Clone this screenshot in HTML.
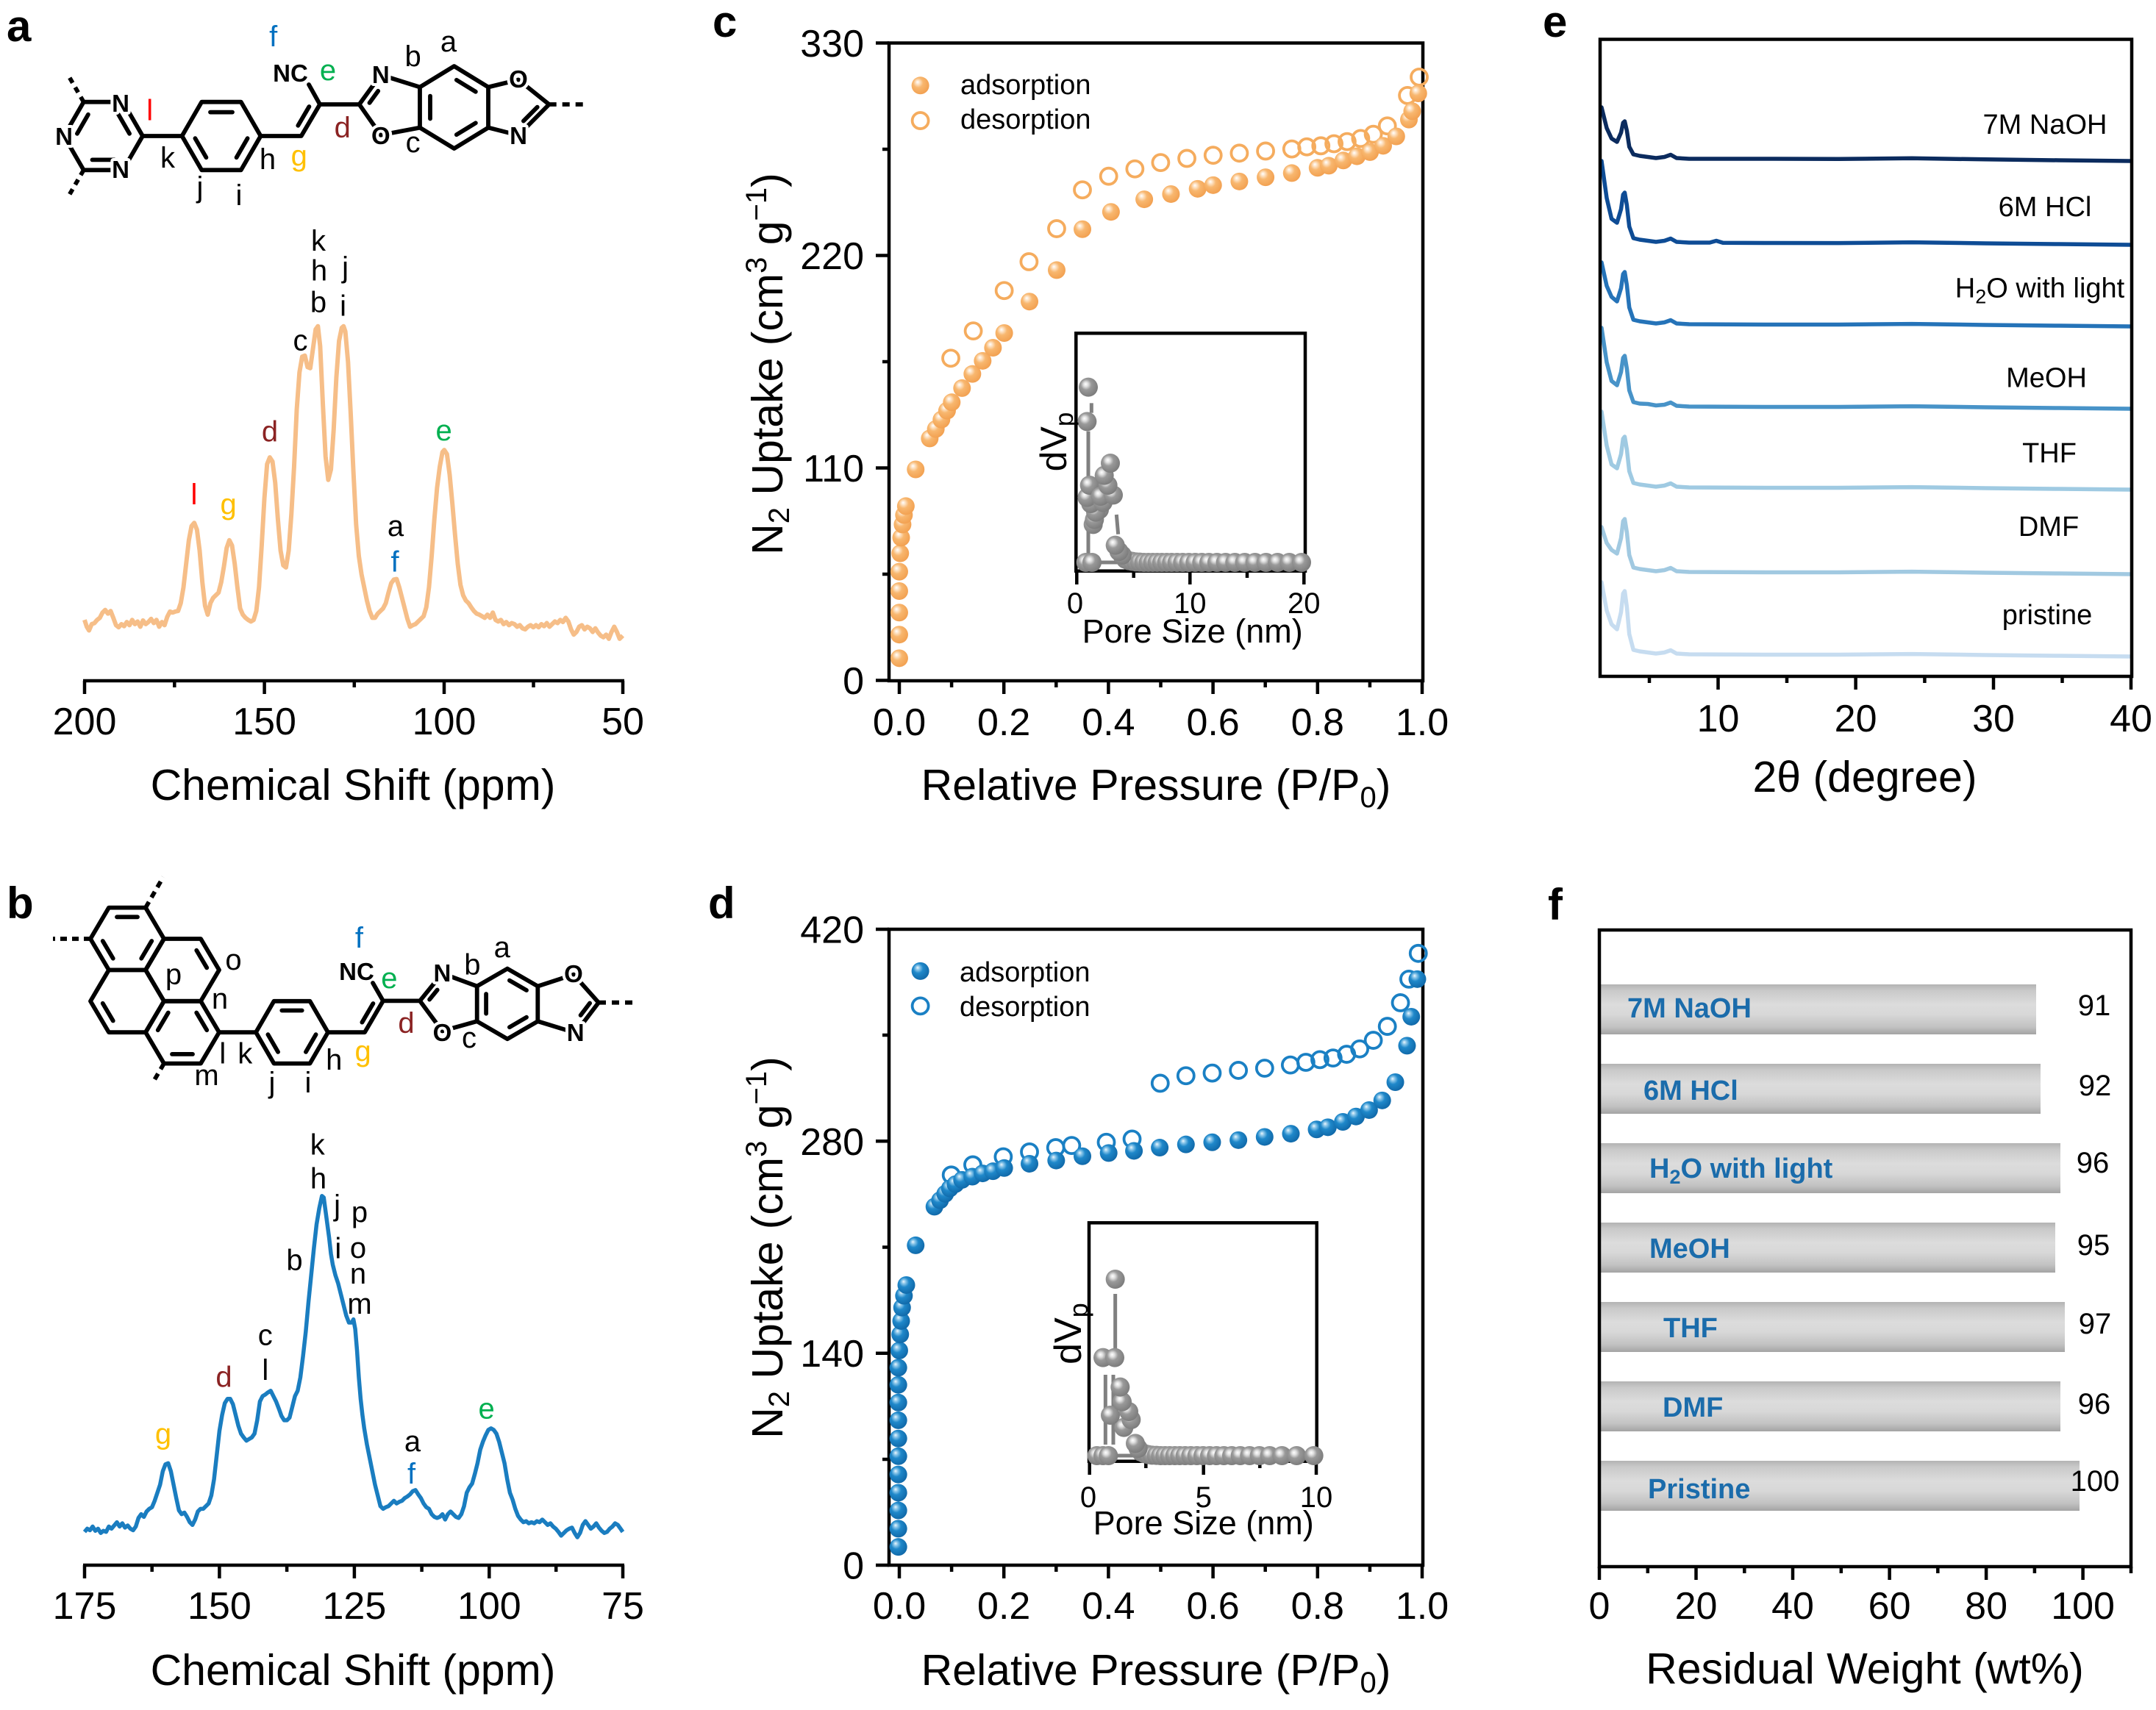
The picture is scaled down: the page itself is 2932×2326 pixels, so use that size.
<!DOCTYPE html>
<html><head><meta charset="utf-8"><style>
html,body{margin:0;padding:0;background:#fff;}
svg{display:block;}
text{font-family:"Liberation Sans",Arial,sans-serif;}
.pl{font-weight:bold;font-size:60px;}
.tk{font-size:52px;}
.tt{font-size:59px;}
.lb{font-size:40px;}
.at{font-weight:bold;font-size:33px;stroke:#fff;stroke-width:8;paint-order:stroke;stroke-linejoin:round;}
.bd{stroke:#000;stroke-width:5.8;fill:none;stroke-linecap:round;stroke-linejoin:round;}
.ax{stroke:#000;stroke-width:4.5;fill:none;}
</style></head><body>
<svg width="2932" height="2326" viewBox="0 0 2932 2326" xmlns="http://www.w3.org/2000/svg">
<defs>
<radialGradient id="gO" cx="0.42" cy="0.4" r="0.62" fx="0.34" fy="0.3"><stop offset="0" stop-color="#ffffff"/><stop offset="0.18" stop-color="#fde3c6"/><stop offset="0.45" stop-color="#f8b76f"/><stop offset="1" stop-color="#f2a050"/></radialGradient>
<radialGradient id="gB" cx="0.42" cy="0.4" r="0.62" fx="0.34" fy="0.3"><stop offset="0" stop-color="#eef7fd"/><stop offset="0.18" stop-color="#8cc7ea"/><stop offset="0.45" stop-color="#1f88ca"/><stop offset="1" stop-color="#1068a8"/></radialGradient>
<radialGradient id="gG" cx="0.42" cy="0.4" r="0.62" fx="0.36" fy="0.34"><stop offset="0" stop-color="#ffffff"/><stop offset="0.2" stop-color="#dedede"/><stop offset="0.45" stop-color="#999"/><stop offset="1" stop-color="#7b7b7b"/></radialGradient>
<linearGradient id="bar" x1="0" y1="0" x2="0" y2="1"><stop offset="0" stop-color="#b3b3b3"/><stop offset="0.12" stop-color="#c9c9c9"/><stop offset="0.4" stop-color="#dcdcdc"/><stop offset="0.6" stop-color="#d8d8d8"/><stop offset="0.85" stop-color="#c2c2c2"/><stop offset="1" stop-color="#a3a3a3"/></linearGradient>
<g id="cF"><circle r="12" fill="url(#gO)" transform="scale(1.5699,1.4017)"/></g>
<g id="cE"><circle r="11" fill="none" stroke="#F5AC5E" stroke-width="3.8" transform="scale(1.5699,1.4017)"/></g>
<g id="dF"><circle r="12" fill="url(#gB)" transform="scale(1.5699,1.3699)"/></g>
<g id="dE"><circle r="11" fill="none" stroke="#1a80c4" stroke-width="3.8" transform="scale(1.5699,1.3699)"/></g>
<circle id="gS" r="39" fill="url(#gG)"/>
</defs>

<!-- ================= PANEL A ================= -->
<text class="pl" x="9" y="56">a</text>
<g class="bd">
<polygon points="87,185 113.75,138.7 167.25,138.7 194,185 167.25,231.3 113.75,231.3"/>
<line x1="104.9" y1="181.8" x2="119.9" y2="155.8"/><line x1="161.1" y1="155.8" x2="176.1" y2="181.8"/><line x1="155.5" y1="217.4" x2="125.5" y2="217.4"/>
<line x1="113.75" y1="138.7" x2="91.25" y2="99.7" stroke-dasharray="8 7" stroke-linecap="butt"/>
<line x1="113.75" y1="231.3" x2="91.25" y2="270.3" stroke-dasharray="8 7" stroke-linecap="butt"/>
<line x1="194" y1="185" x2="247.5" y2="185"/>
<polygon points="247.5,185 274.25,138.7 327.75,138.7 354.5,185 327.75,231.3 274.25,231.3"/>
<line x1="286" y1="152.6" x2="316" y2="152.6"/><line x1="265.4" y1="188.2" x2="280.4" y2="214.2"/><line x1="336.6" y1="188.2" x2="321.6" y2="214.2"/>
<polyline points="354.5,185 409.7,185 435,142 488.6,142"/>
<line x1="405.3" y1="170.8" x2="420.4" y2="145"/>
<line x1="435" y1="142" x2="420" y2="115"/>
<line x1="488.6" y1="142" x2="517.8" y2="101.8"/><line x1="502.5" y1="139.9" x2="514.2" y2="123.8"/>
<line x1="488.6" y1="142" x2="517.8" y2="183.7"/>
<line x1="517.8" y1="101.8" x2="571" y2="118.5"/><line x1="517.8" y1="183.7" x2="571" y2="173.6"/>
<polygon points="571,118.5 617.6,90 664,118.5 664,173.6 617.6,202 571,173.6"/>
<line x1="585" y1="130.6" x2="585" y2="161.5"/><line x1="620.85" y1="108.8" x2="646.85" y2="124.75"/><line x1="646.85" y1="167.3" x2="620.85" y2="183.2"/>
<polyline points="664,118.5 705,108.5 746.7,142 705,184 664,173.6"/>
<line x1="730.7" y1="145.7" x2="711.9" y2="164.6"/>
<line x1="746.7" y1="142" x2="795" y2="142" stroke-dasharray="10 8" stroke-linecap="butt"/>
</g>
<g class="at" text-anchor="middle">
<text x="87" y="197">N</text><text x="164" y="152">N</text><text x="164" y="242">N</text>
<text x="517.8" y="113">N</text><text x="517.8" y="196">O</text>
<text x="705" y="119">O</text><text x="705" y="196">N</text>
<text x="395" y="111" stroke-width="4">NC</text>
</g>
<g class="lb" text-anchor="middle">
<text x="203.7" y="163.6" style="fill:#FF0000">l</text>
<text x="228" y="228">k</text>
<text x="272" y="268">j</text>
<text x="325" y="279">i</text>
<text x="364" y="230">h</text>
<text x="406.7" y="225" style="fill:#FFC000">g</text>
<text x="371.7" y="63" style="fill:#0070C0">f</text>
<text x="446" y="109" style="fill:#00B050">e</text>
<text x="465.7" y="187" style="fill:#8B2323">d</text>
<text x="561.6" y="90">b</text>
<text x="610" y="70">a</text>
<text x="561.6" y="207">c</text>
</g>
<!-- spectrum a -->
<path fill="none" stroke="#F6BE88" stroke-width="6" stroke-linejoin="round" vector-effect="non-scaling-stroke" transform="matrix(0.6115,0,0,0.7134,0,0)" d="M188,1182 L193,1195 198,1202 204,1190 210,1188 216,1182 222,1178 228,1168 234,1163 240,1170 246,1165 252,1178 258,1192 264,1196 270,1190 276,1194 282,1186 288,1192 294,1182 300,1190 306,1185 312,1195 318,1183 324,1190 330,1186 336,1180 342,1188 348,1182 354,1195 360,1186 366,1192 372,1176 378,1166 384,1168 390,1166 396,1165 402,1150 408,1120 414,1075 420,1030 426,1003 432,997 438,1010 444,1050 450,1110 456,1155 462,1172 468,1150 474,1140 480,1135 486,1130 492,1110 498,1080 504,1045 510,1030 516,1040 522,1075 528,1120 534,1160 540,1172 546,1178 552,1182 558,1185 564,1182 570,1165 576,1120 582,1040 588,950 594,885 600,872 606,880 612,920 618,990 624,1050 630,1078 636,1082 642,1050 648,980 654,890 660,780 666,710 672,680 678,678 684,700 690,702 696,665 702,628 707,622 712,660 718,770 724,870 730,915 736,895 742,820 748,720 754,650 760,625 764,622 768,632 774,690 780,790 786,900 792,1000 798,1060 804,1095 810,1120 816,1145 822,1165 828,1178 834,1178 840,1170 846,1165 852,1160 858,1150 864,1130 870,1112 876,1105 882,1104 888,1120 894,1140 900,1160 906,1180 912,1195 918,1192 924,1190 930,1185 936,1180 942,1175 948,1158 954,1120 960,1060 966,990 972,930 978,890 984,862 988,858 994,866 1000,905 1006,960 1012,1020 1018,1075 1024,1115 1030,1135 1036,1145 1042,1150 1048,1158 1054,1165 1060,1170 1066,1172 1072,1175 1078,1178 1084,1172 1090,1178 1096,1168 1102,1182 1108,1185 1114,1182 1120,1190 1126,1186 1132,1192 1138,1188 1144,1190 1150,1195 1156,1192 1162,1198 1168,1200 1174,1195 1180,1192 1186,1196 1192,1192 1198,1196 1204,1190 1210,1194 1216,1188 1222,1195 1228,1190 1234,1185 1240,1188 1246,1182 1252,1186 1258,1178 1264,1185 1270,1200 1276,1210 1282,1205 1288,1195 1294,1192 1300,1200 1306,1195 1312,1198 1318,1205 1324,1198 1330,1206 1336,1212 1342,1215 1348,1210 1354,1218 1360,1205 1366,1195 1372,1205 1378,1218 1385,1212"/>
<g class="lb" text-anchor="middle">
<text x="264" y="686" style="fill:#FF0000">l</text>
<text x="310.6" y="699" style="fill:#FFC000">g</text>
<text x="367" y="600.7" style="fill:#8B2323">d</text>
<text x="408.5" y="476.5">c</text>
<text x="433" y="341">k</text>
<text x="434" y="381.7">h</text>
<text x="433" y="424.5">b</text>
<text x="469.6" y="377">j</text>
<text x="466.6" y="429.5">i</text>
<text x="538" y="729">a</text>
<text x="537" y="777.6" style="fill:#0070C0">f</text>
<text x="603.6" y="599" style="fill:#00B050">e</text>
</g>
<g class="ax">
<line x1="113" y1="926" x2="849" y2="926"/>
<line x1="115" y1="926" x2="115" y2="944"/><line x1="359.6" y1="926" x2="359.6" y2="944"/><line x1="604" y1="926" x2="604" y2="944"/><line x1="847" y1="926" x2="847" y2="944"/>
<line x1="237.3" y1="926" x2="237.3" y2="935"/><line x1="481.8" y1="926" x2="481.8" y2="935"/><line x1="725.5" y1="926" x2="725.5" y2="935"/>
</g>
<g class="tk" text-anchor="middle">
<text x="115" y="999">200</text><text x="359.6" y="999">150</text><text x="604" y="999">100</text><text x="847" y="999">50</text>
</g>
<text class="tt" x="480" y="1088" text-anchor="middle" font-size="60.5">Chemical Shift (ppm)</text>

<!-- ================= PANEL B ================= -->
<text class="pl" x="9" y="1249">b</text>
<g class="bd">
<polygon points="148,1234.6 198,1234.6 223,1277 198,1319.4 148,1319.4 123,1277"/>
<polygon points="223,1277 273,1277 298,1319.4 273,1361.8 223,1361.8 198,1319.4"/>
<polygon points="148,1319.4 198,1319.4 223,1361.8 198,1404.2 148,1404.2 123,1361.8"/>
<polygon points="223,1361.8 273,1361.8 298,1404.2 273,1446.6 223,1446.6 198,1404.2"/>
<line x1="159" y1="1247.3" x2="187" y2="1247.3"/>
<line x1="139.75" y1="1280" x2="153.75" y2="1303.7"/>
<line x1="206.25" y1="1280" x2="192.25" y2="1303.7"/>
<line x1="267.25" y1="1292.7" x2="281.25" y2="1316.4"/>
<line x1="139.75" y1="1364.8" x2="153.75" y2="1388.5"/>
<line x1="234" y1="1433.9" x2="262" y2="1433.9"/>
<line x1="267.25" y1="1377.5" x2="281.25" y2="1401.2"/>
<line x1="228.75" y1="1377.5" x2="214.75" y2="1401.2"/>
<line x1="123" y1="1277" x2="72" y2="1277" stroke-dasharray="9 7" stroke-linecap="butt"/>
<line x1="198" y1="1234.6" x2="222" y2="1193" stroke-dasharray="9 7" stroke-linecap="butt"/>
<line x1="223" y1="1446.6" x2="207" y2="1474" stroke-dasharray="9 7" stroke-linecap="butt"/>
<line x1="298" y1="1404.2" x2="348" y2="1404.2"/>
<polygon points="348,1404.2 372.5,1361.8 421.5,1361.8 446,1404.2 421.5,1446.6 372.5,1446.6"/>
<line x1="383.3" y1="1374.5" x2="410.7" y2="1374.5"/><line x1="364.4" y1="1407.2" x2="378.1" y2="1430.9"/><line x1="429.6" y1="1407.2" x2="415.9" y2="1430.9"/>
<polyline points="446,1404.2 496,1404.2 521,1361.4 571,1361.4"/>
<line x1="492.4" y1="1390.6" x2="507.4" y2="1365"/>
<line x1="521" y1="1361.4" x2="507" y2="1337"/>
<line x1="571" y1="1361.4" x2="601.4" y2="1324"/><line x1="584.1" y1="1359.6" x2="594.7" y2="1346.5"/>
<line x1="571" y1="1361.4" x2="601.4" y2="1402.4"/>
<line x1="601.4" y1="1324" x2="648.7" y2="1341.5"/><line x1="601.4" y1="1402.4" x2="648.7" y2="1389.2"/>
<polygon points="648.7,1341.5 690,1317.6 731.3,1341.5 731.3,1389.2 690,1413.2 648.7,1389.2"/>
<line x1="661.1" y1="1352" x2="661.1" y2="1378.7"/><line x1="692.9" y1="1333.6" x2="716" y2="1347"/><line x1="716" y1="1383.7" x2="692.9" y2="1397.2"/>
<polyline points="731.3,1341.5 780,1325.6 814,1363.7 782.7,1405 731.3,1389.2"/>
<line x1="802.1" y1="1364.5" x2="789.6" y2="1381"/>
<line x1="814" y1="1363.7" x2="864" y2="1363.7" stroke-dasharray="10 8" stroke-linecap="butt"/>
</g>
<g class="at" text-anchor="middle">
<text x="601.4" y="1335">N</text><text x="601.4" y="1416">O</text>
<text x="780" y="1336">O</text><text x="782.7" y="1416">N</text>
<text x="485" y="1333" stroke-width="4">NC</text>
</g>
<g class="lb" text-anchor="middle">
<text x="317.5" y="1319">o</text>
<text x="236" y="1338.6">p</text>
<text x="299" y="1372">n</text>
<text x="302.8" y="1446.5">l</text>
<text x="333.3" y="1446.5">k</text>
<text x="281" y="1476">m</text>
<text x="370" y="1486">j</text>
<text x="419" y="1486">i</text>
<text x="454.2" y="1455">h</text>
<text x="493.6" y="1443" style="fill:#FFC000">g</text>
<text x="488.4" y="1289" style="fill:#0070C0">f</text>
<text x="529.4" y="1343.8" style="fill:#00B050">e</text>
<text x="552.5" y="1405" style="fill:#8B2323">d</text>
<text x="642.4" y="1325.6">b</text>
<text x="682.8" y="1302">a</text>
<text x="638" y="1425">c</text>
</g>
<!-- spectrum b -->
<path fill="none" stroke="#1A7DC0" stroke-width="5.5" stroke-linejoin="round" vector-effect="non-scaling-stroke" transform="matrix(0.6115,0,0,0.73,0,1180)" d="M188,1238 L194,1232 200,1235 206,1228 212,1236 218,1232 224,1240 230,1236 236,1238 242,1228 248,1232 254,1226 260,1220 266,1228 272,1222 278,1230 284,1226 290,1232 296,1235 302,1228 308,1212 314,1205 320,1210 326,1200 332,1195 338,1192 344,1180 350,1165 356,1150 362,1125 368,1112 374,1110 380,1125 386,1150 392,1175 398,1198 404,1205 410,1202 416,1210 422,1220 428,1225 434,1215 440,1200 446,1195 452,1195 458,1190 464,1185 470,1170 476,1140 482,1095 488,1050 494,1020 500,998 506,990 512,990 518,1000 524,1020 530,1040 536,1055 542,1062 548,1068 554,1065 560,1062 566,1055 572,1030 578,995 584,985 590,982 596,978 602,975 608,985 614,995 620,1008 626,1022 632,1030 638,1030 644,1025 650,1005 656,985 662,975 668,950 674,910 680,865 686,810 692,760 698,710 704,665 710,635 716,612 720,615 724,640 728,665 732,690 736,720 740,740 746,760 752,775 758,795 764,815 770,835 776,848 782,848 786,842 790,860 794,900 798,950 802,990 806,1020 810,1045 816,1075 822,1100 828,1125 834,1150 840,1170 846,1190 852,1195 858,1192 864,1190 870,1185 876,1180 882,1185 888,1182 894,1180 900,1175 906,1172 912,1168 918,1162 924,1160 930,1168 936,1175 942,1185 948,1192 954,1195 960,1205 966,1210 972,1212 978,1210 984,1205 990,1215 996,1205 1002,1200 1008,1205 1014,1210 1020,1212 1026,1205 1032,1190 1038,1165 1044,1155 1050,1148 1056,1130 1062,1110 1068,1085 1074,1070 1080,1058 1086,1048 1092,1045 1098,1048 1104,1055 1110,1070 1116,1090 1122,1110 1128,1140 1134,1165 1140,1178 1146,1195 1152,1208 1158,1215 1164,1220 1170,1218 1176,1222 1182,1220 1188,1222 1194,1218 1200,1220 1206,1215 1212,1220 1218,1225 1224,1222 1230,1228 1236,1232 1242,1238 1248,1245 1254,1240 1260,1235 1266,1232 1272,1230 1278,1240 1284,1248 1290,1240 1296,1225 1302,1218 1308,1225 1314,1232 1320,1228 1326,1222 1332,1230 1338,1236 1344,1240 1350,1238 1356,1232 1362,1228 1368,1222 1374,1225 1380,1232 1385,1238"/>
<g class="lb" text-anchor="middle">
<text x="222" y="1963.6" style="fill:#FFC000">g</text>
<text x="304.5" y="1886.6" style="fill:#8B2323">d</text>
<text x="360.8" y="1829.7">c</text>
<text x="360.8" y="1877">l</text>
<text x="400.5" y="1727.5">b</text>
<text x="431.7" y="1570.5">k</text>
<text x="433" y="1616.5">h</text>
<text x="458.6" y="1653">j</text>
<text x="459.8" y="1711.4">i</text>
<text x="489" y="1662">p</text>
<text x="487" y="1711">o</text>
<text x="487" y="1746">n</text>
<text x="489" y="1787">m</text>
<text x="561" y="1974">a</text>
<text x="559.5" y="2018" style="fill:#0070C0">f</text>
<text x="661.6" y="1929.7" style="fill:#00B050">e</text>
</g>
<g class="ax">
<line x1="113" y1="2129" x2="849" y2="2129"/>
<line x1="115" y1="2129" x2="115" y2="2147"/><line x1="298.4" y1="2129" x2="298.4" y2="2147"/><line x1="481.9" y1="2129" x2="481.9" y2="2147"/><line x1="665.3" y1="2129" x2="665.3" y2="2147"/><line x1="847" y1="2129" x2="847" y2="2147"/>
<line x1="206.7" y1="2129" x2="206.7" y2="2138"/><line x1="390.1" y1="2129" x2="390.1" y2="2138"/><line x1="573.6" y1="2129" x2="573.6" y2="2138"/><line x1="756.2" y1="2129" x2="756.2" y2="2138"/>
</g>
<g class="tk" text-anchor="middle">
<text x="115" y="2202">175</text><text x="298.4" y="2202">150</text><text x="481.9" y="2202">125</text><text x="665.3" y="2202">100</text><text x="847" y="2202">75</text>
</g>
<text class="tt" x="480" y="2292" text-anchor="middle" font-size="60.5">Chemical Shift (ppm)</text>

<!-- ================= PANEL C ================= -->
<text class="pl" x="969" y="50">c</text>
<rect x="1209" y="58.5" width="726" height="867.5" class="ax"/>
<g class="ax">
<line x1="1191" y1="58.5" x2="1209" y2="58.5"/><line x1="1191" y1="347.5" x2="1209" y2="347.5"/><line x1="1191" y1="636.5" x2="1209" y2="636.5"/><line x1="1191" y1="925.5" x2="1209" y2="925.5"/>
<line x1="1200" y1="203" x2="1209" y2="203"/><line x1="1200" y1="492" x2="1209" y2="492"/><line x1="1200" y1="781" x2="1209" y2="781"/>
<line x1="1223" y1="926" x2="1223" y2="944"/><line x1="1365.2" y1="926" x2="1365.2" y2="944"/><line x1="1507.4" y1="926" x2="1507.4" y2="944"/><line x1="1649.6" y1="926" x2="1649.6" y2="944"/><line x1="1791.8" y1="926" x2="1791.8" y2="944"/><line x1="1934" y1="926" x2="1934" y2="944"/>
<line x1="1294.1" y1="926" x2="1294.1" y2="935"/><line x1="1436.3" y1="926" x2="1436.3" y2="935"/><line x1="1578.5" y1="926" x2="1578.5" y2="935"/><line x1="1720.7" y1="926" x2="1720.7" y2="935"/><line x1="1862.9" y1="926" x2="1862.9" y2="935"/>
</g>
<g class="tk" text-anchor="end">
<text x="1175" y="77">330</text><text x="1175" y="366">220</text><text x="1175" y="655">110</text><text x="1175" y="944">0</text>
</g>
<g class="tk" text-anchor="middle">
<text x="1223" y="1000">0.0</text><text x="1365.2" y="1000">0.2</text><text x="1507.4" y="1000">0.4</text><text x="1649.6" y="1000">0.6</text><text x="1791.8" y="1000">0.8</text><text x="1934" y="1000">1.0</text>
</g>
<text class="tt" x="1572" y="1088" text-anchor="middle">Relative Pressure (P/P<tspan font-size="40" dy="10">0</tspan><tspan dy="-10">)</tspan></text>
<text class="tt" font-size="58" transform="translate(1064,495) rotate(-90)" text-anchor="middle">N<tspan font-size="40" dy="9">2</tspan><tspan dy="-9"> Uptake (cm</tspan><tspan font-size="40" dy="-22">3</tspan><tspan dy="22"> g</tspan><tspan font-size="40" dy="-22">−1</tspan><tspan dy="22">)</tspan></text>
<g transform="matrix(0.637,0,0,0.7134,1000,0)">
<use href="#cE" x="1460" y="147"/><use href="#cE" x="1435" y="182"/><use href="#cE" x="1392" y="240"/><use href="#cE" x="1362" y="256"/><use href="#cE" x="1335" y="264"/><use href="#cE" x="1306" y="270"/><use href="#cE" x="1278" y="274"/><use href="#cE" x="1250" y="278"/><use href="#cE" x="1220" y="280"/><use href="#cE" x="1188" y="284"/><use href="#cE" x="1132" y="288"/><use href="#cE" x="1076" y="292"/><use href="#cE" x="1020" y="296"/><use href="#cE" x="964" y="302"/><use href="#cE" x="908" y="310"/><use href="#cE" x="853" y="322"/><use href="#cE" x="797" y="336"/><use href="#cE" x="741" y="362"/><use href="#cE" x="686" y="436"/><use href="#cE" x="627" y="499"/><use href="#cE" x="574" y="554"/><use href="#cE" x="508" y="631"/><use href="#cE" x="460" y="683"/>
<use href="#cF" x="350" y="1255"/><use href="#cF" x="350" y="1210"/><use href="#cF" x="350" y="1168"/><use href="#cF" x="350" y="1127"/><use href="#cF" x="350" y="1090"/><use href="#cF" x="352" y="1055"/><use href="#cF" x="354" y="1025"/><use href="#cF" x="357" y="1000"/><use href="#cF" x="360" y="982"/><use href="#cF" x="364" y="965"/><use href="#cF" x="385" y="895"/><use href="#cF" x="415" y="836"/><use href="#cF" x="428" y="818"/><use href="#cF" x="440" y="800"/><use href="#cF" x="452" y="783"/><use href="#cF" x="462" y="767"/><use href="#cF" x="484" y="740"/><use href="#cF" x="506" y="713"/><use href="#cF" x="528" y="688"/><use href="#cF" x="550" y="663"/><use href="#cF" x="574" y="635"/><use href="#cF" x="628" y="575"/><use href="#cF" x="686" y="515"/><use href="#cF" x="741" y="437"/><use href="#cF" x="802" y="404"/><use href="#cF" x="873" y="380"/><use href="#cF" x="930" y="370"/><use href="#cF" x="987" y="360"/><use href="#cF" x="1020" y="353"/><use href="#cF" x="1076" y="346"/><use href="#cF" x="1132" y="338"/><use href="#cF" x="1188" y="330"/><use href="#cF" x="1243" y="320"/><use href="#cF" x="1267" y="316"/><use href="#cF" x="1298" y="306"/><use href="#cF" x="1327" y="298"/><use href="#cF" x="1355" y="290"/><use href="#cF" x="1383" y="278"/><use href="#cF" x="1411" y="260"/><use href="#cF" x="1438" y="228"/><use href="#cF" x="1445" y="212"/><use href="#cF" x="1458" y="178"/>
<use href="#cF" x="395" y="163"/><use href="#cE" x="395" y="230"/>
</g>
<text x="1306" y="128" font-size="38">adsorption</text>
<text x="1306" y="175" font-size="38">desorption</text>
<!-- inset c -->
<rect x="1463.3" y="453.3" width="311.7" height="323.4" fill="#fff" stroke="#000" stroke-width="4.5"/>
<g class="ax">
<line x1="1464.3" y1="777" x2="1464.3" y2="795"/><line x1="1618.3" y1="777" x2="1618.3" y2="795"/><line x1="1773.3" y1="777" x2="1773.3" y2="795"/>
<line x1="1541.7" y1="777" x2="1541.7" y2="786"/><line x1="1696" y1="777" x2="1696" y2="786"/>
</g>
<g transform="matrix(0.33333,0,0,0.33333,1400,430)">
<g fill="none" stroke="#808080" stroke-width="5">
<line x1="240" y1="470" x2="240" y2="1000" vector-effect="non-scaling-stroke"/>
<line x1="253" y1="355" x2="253" y2="395" vector-effect="non-scaling-stroke"/>
<line x1="355" y1="810" x2="362" y2="890" vector-effect="non-scaling-stroke"/>
<polyline points="240,1005 385,1005 1110,1005" vector-effect="non-scaling-stroke"/>
</g>
<use href="#gS" x="230" y="1005"/><use href="#gS" x="255" y="1005"/>
<use href="#gS" x="392" y="992"/><use href="#gS" x="405" y="998"/><use href="#gS" x="420" y="1001"/><use href="#gS" x="435" y="1003"/><use href="#gS" x="450" y="1004"/><use href="#gS" x="467" y="1005"/><use href="#gS" x="485" y="1005"/><use href="#gS" x="503" y="1005"/><use href="#gS" x="521" y="1005"/><use href="#gS" x="540" y="1005"/><use href="#gS" x="560" y="1005"/><use href="#gS" x="580" y="1005"/><use href="#gS" x="602" y="1005"/><use href="#gS" x="625" y="1005"/><use href="#gS" x="650" y="1005"/><use href="#gS" x="676" y="1005"/><use href="#gS" x="703" y="1005"/><use href="#gS" x="732" y="1005"/><use href="#gS" x="765" y="1005"/><use href="#gS" x="800" y="1005"/><use href="#gS" x="838" y="1005"/><use href="#gS" x="878" y="1005"/><use href="#gS" x="920" y="1005"/><use href="#gS" x="965" y="1005"/><use href="#gS" x="1012" y="1005"/><use href="#gS" x="1060" y="1005"/><use href="#gS" x="1110" y="1005"/>
<use href="#gS" x="378" y="975"/><use href="#gS" x="365" y="960"/><use href="#gS" x="350" y="935"/>
<use href="#gS" x="260" y="850"/><use href="#gS" x="265" y="830"/><use href="#gS" x="285" y="790"/><use href="#gS" x="270" y="800"/><use href="#gS" x="250" y="765"/><use href="#gS" x="235" y="740"/><use href="#gS" x="300" y="760"/><use href="#gS" x="245" y="690"/><use href="#gS" x="290" y="735"/><use href="#gS" x="342" y="730"/><use href="#gS" x="320" y="690"/><use href="#gS" x="305" y="650"/><use href="#gS" x="330" y="600"/>
<use href="#gS" x="235" y="430"/><use href="#gS" x="240" y="290"/>
</g>
<g font-size="40" text-anchor="middle">
<text x="1462" y="834">0</text><text x="1618.3" y="834">10</text><text x="1773.3" y="834">20</text>
</g>
<text x="1621.7" y="874" font-size="45" text-anchor="middle">Pore Size (nm)</text>
<text transform="translate(1450,601) rotate(-90)" font-size="50" text-anchor="middle">dV<tspan font-size="35" dy="9">p</tspan></text>

<!-- ================= PANEL D ================= -->
<text class="pl" x="963" y="1249">d</text>
<rect x="1209" y="1264" width="726" height="865" class="ax"/>
<g class="ax">
<line x1="1191" y1="1264" x2="1209" y2="1264"/><line x1="1191" y1="1552.3" x2="1209" y2="1552.3"/><line x1="1191" y1="1840.7" x2="1209" y2="1840.7"/><line x1="1191" y1="2129" x2="1209" y2="2129"/>
<line x1="1200" y1="1408" x2="1209" y2="1408"/><line x1="1200" y1="1696.5" x2="1209" y2="1696.5"/><line x1="1200" y1="1985" x2="1209" y2="1985"/>
<line x1="1223" y1="2129" x2="1223" y2="2147"/><line x1="1365.2" y1="2129" x2="1365.2" y2="2147"/><line x1="1507.4" y1="2129" x2="1507.4" y2="2147"/><line x1="1649.6" y1="2129" x2="1649.6" y2="2147"/><line x1="1791.8" y1="2129" x2="1791.8" y2="2147"/><line x1="1934" y1="2129" x2="1934" y2="2147"/>
<line x1="1294.1" y1="2129" x2="1294.1" y2="2138"/><line x1="1436.3" y1="2129" x2="1436.3" y2="2138"/><line x1="1578.5" y1="2129" x2="1578.5" y2="2138"/><line x1="1720.7" y1="2129" x2="1720.7" y2="2138"/><line x1="1862.9" y1="2129" x2="1862.9" y2="2138"/>
</g>
<g class="tk" text-anchor="end">
<text x="1175" y="1282.5">420</text><text x="1175" y="1571">280</text><text x="1175" y="1859">140</text><text x="1175" y="2147.5">0</text>
</g>
<g class="tk" text-anchor="middle">
<text x="1223" y="2202">0.0</text><text x="1365.2" y="2202">0.2</text><text x="1507.4" y="2202">0.4</text><text x="1649.6" y="2202">0.6</text><text x="1791.8" y="2202">0.8</text><text x="1934" y="2202">1.0</text>
</g>
<text class="tt" x="1572" y="2292" text-anchor="middle">Relative Pressure (P/P<tspan font-size="40" dy="10">0</tspan><tspan dy="-10">)</tspan></text>
<text class="tt" font-size="58" transform="translate(1064,1697) rotate(-90)" text-anchor="middle">N<tspan font-size="40" dy="9">2</tspan><tspan dy="-9"> Uptake (cm</tspan><tspan font-size="40" dy="-22">3</tspan><tspan dy="22"> g</tspan><tspan font-size="40" dy="-22">−1</tspan><tspan dy="22">)</tspan></text>
<g transform="matrix(0.637,0,0,0.73,1000,1180)">
<use href="#dE" x="1458" y="160"/><use href="#dE" x="1438" y="208"/><use href="#dE" x="1420" y="252"/><use href="#dE" x="1392" y="296"/><use href="#dE" x="1362" y="322"/><use href="#dE" x="1333" y="338"/><use href="#dE" x="1305" y="348"/><use href="#dE" x="1276" y="355"/><use href="#dE" x="1248" y="358"/><use href="#dE" x="1218" y="363"/><use href="#dE" x="1185" y="368"/><use href="#dE" x="1130" y="374"/><use href="#dE" x="1074" y="378"/><use href="#dE" x="1018" y="383"/><use href="#dE" x="962" y="388"/><use href="#dE" x="907" y="402"/><use href="#dE" x="847" y="506"/><use href="#dE" x="792" y="512"/><use href="#dE" x="718" y="518"/><use href="#dE" x="684" y="522"/><use href="#dE" x="628" y="530"/><use href="#dE" x="572" y="539"/><use href="#dE" x="507" y="554"/><use href="#dE" x="461" y="573"/>
<use href="#dF" x="348" y="1266"/><use href="#dF" x="348" y="1232"/><use href="#dF" x="348" y="1198"/><use href="#dF" x="348" y="1165"/><use href="#dF" x="348" y="1131"/><use href="#dF" x="348" y="1097"/><use href="#dF" x="348" y="1064"/><use href="#dF" x="348" y="1030"/><use href="#dF" x="348" y="997"/><use href="#dF" x="348" y="964"/><use href="#dF" x="348" y="932"/><use href="#dF" x="350" y="900"/><use href="#dF" x="352" y="870"/><use href="#dF" x="354" y="845"/><use href="#dF" x="356" y="820"/><use href="#dF" x="360" y="798"/><use href="#dF" x="365" y="778"/><use href="#dF" x="385" y="704"/><use href="#dF" x="425" y="632"/><use href="#dF" x="437" y="620"/><use href="#dF" x="448" y="608"/><use href="#dF" x="458" y="598"/><use href="#dF" x="470" y="590"/><use href="#dF" x="484" y="582"/><use href="#dF" x="506" y="576"/><use href="#dF" x="528" y="570"/><use href="#dF" x="550" y="566"/><use href="#dF" x="574" y="560"/><use href="#dF" x="628" y="552"/><use href="#dF" x="685" y="546"/><use href="#dF" x="741" y="538"/><use href="#dF" x="797" y="532"/><use href="#dF" x="851" y="528"/><use href="#dF" x="906" y="522"/><use href="#dF" x="962" y="516"/><use href="#dF" x="1018" y="512"/><use href="#dF" x="1074" y="508"/><use href="#dF" x="1130" y="502"/><use href="#dF" x="1186" y="496"/><use href="#dF" x="1241" y="488"/><use href="#dF" x="1265" y="484"/><use href="#dF" x="1297" y="474"/><use href="#dF" x="1325" y="464"/><use href="#dF" x="1353" y="452"/><use href="#dF" x="1381" y="434"/><use href="#dF" x="1409" y="400"/><use href="#dF" x="1434" y="332"/><use href="#dF" x="1443" y="278"/><use href="#dF" x="1456" y="208"/>
<use href="#dF" x="395" y="193"/><use href="#dE" x="395" y="258"/>
</g>
<text x="1305" y="1335" font-size="38">adsorption</text>
<text x="1305" y="1382" font-size="38">desorption</text>
<!-- inset d -->
<rect x="1481" y="1663.3" width="309.7" height="324.4" fill="#fff" stroke="#000" stroke-width="4.5"/>
<g class="ax">
<line x1="1481.7" y1="1988" x2="1481.7" y2="2006"/><line x1="1636.7" y1="1988" x2="1636.7" y2="2006"/><line x1="1790" y1="1988" x2="1790" y2="2006"/>
<line x1="1558.3" y1="1988" x2="1558.3" y2="1997"/><line x1="1713.3" y1="1988" x2="1713.3" y2="1997"/>
</g>
<g transform="matrix(0.33333,0,0,0.33333,1420,1640)">
<g fill="none" stroke="#808080" stroke-width="5">
<line x1="290" y1="360" x2="290" y2="590" vector-effect="non-scaling-stroke"/>
<line x1="250" y1="690" x2="250" y2="975" vector-effect="non-scaling-stroke"/>
<line x1="282" y1="690" x2="282" y2="975" vector-effect="non-scaling-stroke"/>
<polyline points="215,1020 1100,1020" vector-effect="non-scaling-stroke"/>
</g>
<use href="#gS" x="215" y="1020"/><use href="#gS" x="240" y="1020"/><use href="#gS" x="262" y="1020"/>
<use href="#gS" x="395" y="1005"/><use href="#gS" x="410" y="1012"/><use href="#gS" x="425" y="1016"/><use href="#gS" x="440" y="1018"/><use href="#gS" x="458" y="1019"/><use href="#gS" x="475" y="1020"/><use href="#gS" x="493" y="1020"/><use href="#gS" x="512" y="1020"/><use href="#gS" x="533" y="1020"/><use href="#gS" x="553" y="1020"/><use href="#gS" x="575" y="1020"/><use href="#gS" x="598" y="1020"/><use href="#gS" x="623" y="1020"/><use href="#gS" x="648" y="1020"/><use href="#gS" x="675" y="1020"/><use href="#gS" x="703" y="1020"/><use href="#gS" x="733" y="1020"/><use href="#gS" x="765" y="1020"/><use href="#gS" x="800" y="1020"/><use href="#gS" x="838" y="1020"/><use href="#gS" x="878" y="1020"/><use href="#gS" x="920" y="1020"/><use href="#gS" x="970" y="1020"/><use href="#gS" x="1030" y="1020"/><use href="#gS" x="1100" y="1020"/>
<use href="#gS" x="383" y="990"/><use href="#gS" x="372" y="970"/>
<use href="#gS" x="325" y="905"/><use href="#gS" x="355" y="873"/><use href="#gS" x="270" y="855"/><use href="#gS" x="345" y="840"/><use href="#gS" x="318" y="800"/><use href="#gS" x="310" y="740"/>
<use href="#gS" x="240" y="620"/><use href="#gS" x="288" y="620"/><use href="#gS" x="290" y="300"/>
</g>
<g font-size="40" text-anchor="middle">
<text x="1480" y="2050">0</text><text x="1636.7" y="2050">5</text><text x="1790" y="2050">10</text>
</g>
<text x="1636.7" y="2087" font-size="45" text-anchor="middle">Pore Size (nm)</text>
<text transform="translate(1470,1814) rotate(-90)" font-size="52" text-anchor="middle">dV<tspan font-size="36" dy="9">p</tspan></text>

<!-- ================= PANEL E ================= -->
<text class="pl" x="2098" y="50">e</text>
<g fill="none" stroke-width="5.5" stroke-linejoin="round" stroke-linecap="round">
<path stroke="#c6dcf0" d="M2178,792 L2185,830.4 L2191.6,849.2 L2199,856 L2204.5,832.6 L2207.3,807.4 L2209.5,804 L2212.4,825.5 L2215.7,862.5 L2221.3,884 L2229.8,886 L2241,887.5 L2252,889 L2263.5,887.5 L2272,884.5 L2280,889 L2297,890 L2400,890.5 L2500,890.5 L2600,889.6 L2700,891 L2800,892 L2897,893"/>
<path stroke="#a1c9e1" d="M2178,717 L2185,738.6 L2191.6,748 L2199,753 L2204.5,731.9 L2207.3,708.9 L2209.5,706 L2212.4,724 L2215.7,755 L2221.3,772 L2229.8,774 L2241,775.5 L2252,777 L2263.5,775.5 L2272,772.5 L2280,777 L2297,778 L2400,778.5 L2500,778.5 L2600,777.6 L2700,779 L2800,780 L2897,781"/>
<path stroke="#9fcae2" d="M2178,560 L2185,606.2 L2191.6,631.8 L2199,637 L2204.5,617.7 L2207.3,596.8 L2209.5,594 L2212.4,611.3 L2215.7,641 L2221.3,657 L2229.8,659 L2241,660.5 L2252,662 L2263.5,660.5 L2272,657.5 L2280,662 L2297,663 L2400,663.5 L2500,663.5 L2600,662.6 L2700,664 L2800,665 L2897,666"/>
<path stroke="#4893c8" d="M2178,446 L2185,492.8 L2191.6,518.2 L2199,524 L2204.5,506 L2207.3,486.8 L2209.5,484 L2212.4,501.3 L2215.7,531 L2221.3,547 L2229.8,549 L2241,549.5 L2252,551.5 L2263.5,550.5 L2272,547.5 L2280,552 L2297,553 L2400,553.5 L2500,553.5 L2600,552.6 L2700,554 L2800,555 L2897,556"/>
<path stroke="#2573b8" d="M2178,357 L2185,388.8 L2191.6,403.8 L2199,410 L2204.5,392 L2207.3,372.8 L2209.5,370 L2212.4,387.8 L2215.7,418.3 L2221.3,435 L2229.8,437 L2241,438.5 L2252,440 L2263.5,438.5 L2272,435.5 L2280,440 L2297,441 L2400,441.5 L2500,441.5 L2600,440.6 L2700,442 L2800,443 L2897,444"/>
<path stroke="#0e4c95" d="M2178,219 L2185,269.4 L2191.6,297.6 L2199,303 L2204.5,284.5 L2207.3,264.7 L2209.5,262 L2212.4,279 L2215.7,308.2 L2221.3,324 L2229.8,326 L2241,327.5 L2252,329 L2263.5,327.5 L2272,324.5 L2280,329 L2297,330 L2325,330 L2334,327.5 L2343,330.3 L2400,330.5 L2500,330.6 L2600,329.6 L2700,331 L2800,332 L2897,333"/>
<path stroke="#0b2b5e" d="M2178,146 L2185,174.2 L2191.6,188.4 L2199,193 L2204.5,180.4 L2207.3,167 L2209.5,165 L2212.4,177.7 L2215.7,199.7 L2221.3,210 L2229.8,212 L2241,213.5 L2252,215 L2263.5,213.5 L2272,210.5 L2280,215 L2297,216 L2400,216 L2500,216.2 L2600,215.3 L2700,216.8 L2800,218 L2897,219"/>
</g>
<rect x="2176" y="53.5" width="723" height="866.5" class="ax"/>
<g class="ax">
<line x1="2336.5" y1="920" x2="2336.5" y2="938"/><line x1="2523.6" y1="920" x2="2523.6" y2="938"/><line x1="2711" y1="920" x2="2711" y2="938"/><line x1="2898" y1="920" x2="2898" y2="938"/>
<line x1="2243" y1="920" x2="2243" y2="929"/><line x1="2430" y1="920" x2="2430" y2="929"/><line x1="2617.4" y1="920" x2="2617.4" y2="929"/><line x1="2804.5" y1="920" x2="2804.5" y2="929"/>
</g>
<g font-size="38" text-anchor="middle">
<text x="2781" y="182">7M NaOH</text>
<text x="2781" y="294">6M HCl</text>
<text x="2774" y="404.5">H<tspan font-size="27" dy="8">2</tspan><tspan dy="-8">O with light</tspan></text>
<text x="2783" y="526.5">MeOH</text>
<text x="2787" y="629">THF</text>
<text x="2786" y="729">DMF</text>
<text x="2784" y="849">pristine</text>
</g>
<g class="tk" text-anchor="middle">
<text x="2336.5" y="995">10</text><text x="2523.6" y="995">20</text><text x="2711" y="995">30</text><text x="2898" y="995">40</text>
</g>
<text class="tt" x="2536" y="1077" text-anchor="middle">2θ (degree)</text>

<!-- ================= PANEL F ================= -->
<text class="pl" x="2105" y="1251">f</text>
<g fill="url(#bar)">
<rect x="2177" y="1339" width="592" height="68"/>
<rect x="2177" y="1447" width="598" height="68"/>
<rect x="2177" y="1555" width="625" height="68"/>
<rect x="2177" y="1663" width="618" height="68"/>
<rect x="2177" y="1771" width="631" height="68"/>
<rect x="2177" y="1879" width="625" height="68"/>
<rect x="2177" y="1987" width="651" height="68"/>
</g>
<g font-size="38" font-weight="bold" style="fill:#1b6cab">
<text x="2213" y="1384" style="fill:#1b6cab">7M NaOH</text>
<text x="2235" y="1496" style="fill:#1b6cab">6M HCl</text>
<text x="2243" y="1602" style="fill:#1b6cab">H<tspan font-size="27" dy="8">2</tspan><tspan dy="-8">O with light</tspan></text>
<text x="2243" y="1711" style="fill:#1b6cab">MeOH</text>
<text x="2262" y="1819" style="fill:#1b6cab">THF</text>
<text x="2261" y="1927" style="fill:#1b6cab">DMF</text>
<text x="2241" y="2038" style="fill:#1b6cab">Pristine</text>
</g>
<g font-size="40" text-anchor="middle">
<text x="2848" y="1381">91</text><text x="2849" y="1490">92</text><text x="2846" y="1595">96</text><text x="2847" y="1707">95</text><text x="2849" y="1814">97</text><text x="2848" y="1923">96</text><text x="2849" y="2028">100</text>
</g>
<rect x="2175" y="1265" width="723" height="866" class="ax"/>
<g class="ax">
<line x1="2175" y1="2131" x2="2175" y2="2149"/><line x1="2306.5" y1="2131" x2="2306.5" y2="2149"/><line x1="2438" y1="2131" x2="2438" y2="2149"/><line x1="2569.6" y1="2131" x2="2569.6" y2="2149"/><line x1="2701.1" y1="2131" x2="2701.1" y2="2149"/><line x1="2832.6" y1="2131" x2="2832.6" y2="2149"/>
<line x1="2240.8" y1="2131" x2="2240.8" y2="2140"/><line x1="2372.3" y1="2131" x2="2372.3" y2="2140"/><line x1="2503.8" y1="2131" x2="2503.8" y2="2140"/><line x1="2635.3" y1="2131" x2="2635.3" y2="2140"/><line x1="2766.9" y1="2131" x2="2766.9" y2="2140"/><line x1="2898" y1="2131" x2="2898" y2="2140"/>
</g>
<g class="tk" text-anchor="middle">
<text x="2175" y="2202">0</text><text x="2306.5" y="2202">20</text><text x="2438" y="2202">40</text><text x="2569.6" y="2202">60</text><text x="2701.1" y="2202">80</text><text x="2832.6" y="2202">100</text>
</g>
<text class="tt" x="2536" y="2290" text-anchor="middle">Residual Weight (wt%)</text>
</svg>
</body></html>
